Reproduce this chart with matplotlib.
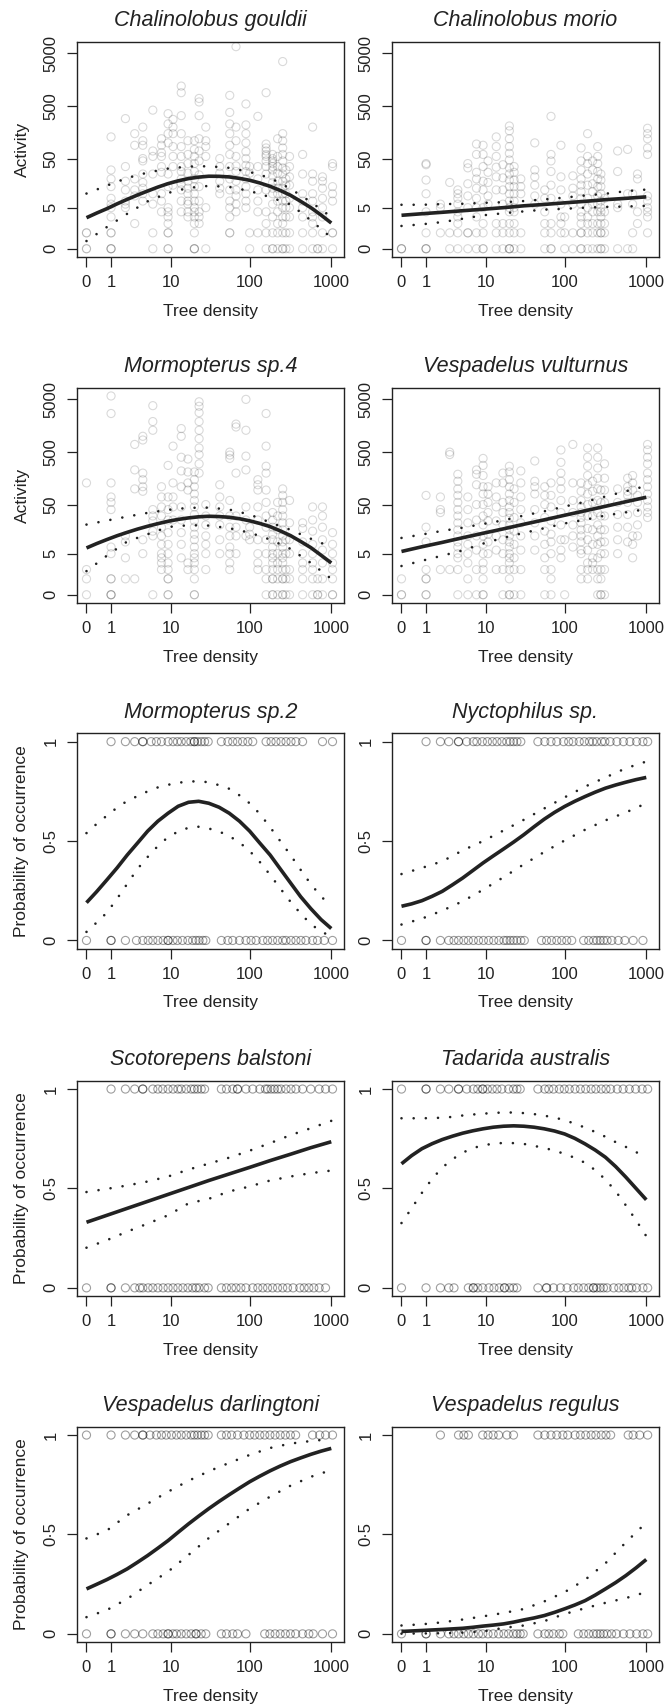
import numpy as np
import matplotlib
matplotlib.use('Agg')
import matplotlib.pyplot as plt
from matplotlib.ticker import FixedLocator, FixedFormatter

plt.rcParams['font.family'] = ['Liberation Sans', 'DejaVu Sans']
INK = '#222222'

# ---- data ---------------------------------------------------------------
# tree density of the survey sites (the columns of points)
sites = [0, 1, 2, 2.9, 3.9, 5.5, 7.3, 9, 10.5, 13.5, 16.5, 20, 23, 28, 42, 56,
         67, 89, 99, 125, 158, 190, 219, 253, 277, 307, 445, 590, 680, 780, 1036]

# activity (passes per night) recorded at each site, per species
gouldii_act = [[0, 0, 1, 1], [0, 0, 0, 1, 1, 3, 5, 6, 8, 14, 20, 30, 130], [5, 6, 7, 12, 18, 35, 290],
               [2, 9, 12, 20, 90, 150], [7, 10, 13, 17, 25, 45, 50, 90, 110, 200], [0, 1, 6, 10, 25, 55, 70, 420],
               [4, 7, 10, 27, 35, 55, 65, 90, 120], [0, 0, 1, 1, 2, 3, 4, 5, 14, 25, 100, 150, 230, 360],
               [15, 35, 55, 85, 150, 200, 280], [4, 7, 12, 16, 20, 28, 35, 55, 85, 150, 330, 900, 1200],
               [3, 4, 6, 7, 10, 13, 18, 26, 40, 60, 110], [0, 0, 0, 1, 2, 3, 4, 5, 7, 10, 14, 20, 28, 40, 55, 75, 110],
               [2, 3, 4, 7, 14, 24, 45, 70, 120, 330, 600, 700], [0, 5, 55, 85, 110, 200], [10, 13, 18, 26, 35, 50],
               [1, 1, 3, 5, 7, 12, 20, 35, 60, 90, 150, 230, 380, 800], [4, 6, 9, 12, 18, 28, 36, 55, 110, 200, 6700],
               [5, 7, 10, 14, 20, 28, 37, 50, 68, 100, 150, 220, 550], [0, 1, 26, 35], [1, 4, 7, 12, 20, 35, 320],
               [0, 1, 2, 4, 12, 25, 35, 45, 55, 60, 70, 80, 95, 900], [0, 0, 1, 3, 6, 10, 13, 17, 23, 30, 35, 40, 45, 50, 60],
               [0, 1, 2, 4, 7, 10, 13, 18, 26, 35, 55, 120], [0, 0, 1, 2, 3, 5, 7, 10, 13, 18, 25, 33, 45, 60, 80, 110, 150, 3500],
               [0, 1, 3, 5, 7, 10, 15, 20, 30], [0, 1, 3, 5, 8, 15, 22, 35, 55], [0, 1, 3, 5, 7, 10, 25, 60],
               [0, 1, 2, 3, 4, 7, 10, 18, 25, 200], [0, 0], [0, 1, 3, 5, 8, 13, 18, 22], [0, 1, 1, 7, 10, 14, 35, 40]]

morio_act = [[0, 0, 0], [0, 0, 0, 1, 4, 10, 19, 38, 40], [1, 5, 6], [0, 1, 17], [0, 1, 2, 3, 4, 6, 8, 10, 12],
             [0, 1, 1, 5, 9, 16, 33, 40], [0, 1, 3, 5, 8, 13, 20, 27, 60, 95], [0, 0, 1, 2, 5, 12, 18, 35, 60, 90],
             [6, 9, 17, 27, 45], [0, 1, 2, 12, 22, 34, 55, 85, 130], [0, 1, 2, 6, 12, 21, 38],
             [0, 0, 0, 1, 2, 4, 5, 7, 10, 14, 19, 25, 33, 47, 63, 85, 120, 170, 210],
             [0, 1, 2, 4, 5, 7, 10, 14, 19, 27, 35], [0, 1, 10, 14, 20], [6, 9, 15, 22, 30, 100], [0, 1, 2, 4, 8, 12],
             [0, 0, 1, 2, 8, 15, 28, 45, 60, 320], [1, 2, 3, 6, 12, 22, 90], [0, 1, 3], [0, 1, 6, 9, 13, 23],
             [0, 0, 1, 1, 2, 3, 4, 6, 8, 11, 15, 20, 30, 45, 80], [0, 1, 2, 3, 5, 8, 15, 25, 40, 55, 150],
             [0, 1, 2, 4, 6, 11, 16, 30, 45], [0, 1, 2, 4, 6, 9, 14, 20, 28, 40, 55, 85],
             [0, 0, 1, 1, 2, 3, 4, 5, 7, 10, 14, 19, 25], [0, 1, 2, 4, 8], [0, 5, 6, 28, 70], [0, 10, 75],
             [0, 1, 6, 10], [2, 4, 20, 25], [1, 3, 4, 5, 7, 9, 60, 80, 120, 150, 190]]

morm4_act = [[0, 1, 2, 130], [0, 0, 0, 1, 1, 5, 7, 40, 55, 70, 130, 2700, 5800], [1, 4, 9, 12], [1, 100, 230, 700],
             [5, 10, 90, 110, 150, 200, 850, 1000], [0, 12, 15, 24, 30, 40, 1300, 1900, 3800],
             [2, 3, 4, 5, 8, 12, 18, 30, 45, 70, 110], [0, 0, 1, 1, 2, 3, 5, 8, 14, 25, 40, 70, 280],
             [25, 45, 70, 130, 650], [4, 8, 14, 25, 45, 110, 220, 400, 1000, 1400], [2, 3, 95, 130, 210, 370],
             [0, 0, 1, 2, 3, 4, 5, 7, 10, 13, 18, 24, 32, 45, 60, 80, 110, 150, 210],
             [200, 300, 450, 600, 900, 1300, 1900, 2800, 3700, 4500], [2, 5, 8, 12, 20, 30, 50],
             [5, 10, 20, 30, 45, 70, 120], [2, 3, 5, 7, 12, 18, 30, 60, 380, 440, 500], [5, 12, 18, 30, 200, 1500, 1700],
             [12, 25, 45, 230, 420, 1300, 5000], [10, 13, 18], [2, 3, 5, 10, 25, 45, 95, 120, 150],
             [0, 1, 2, 5, 10, 18, 30, 55, 95, 200, 270, 650, 2700], [0, 0, 1, 1, 2, 3, 4, 5, 7, 10, 13, 18, 25, 35],
             [0, 1, 2, 3, 5, 9, 16, 30, 55], [0, 0, 1, 1, 2, 3, 4, 5, 7, 9, 12, 16, 22, 30, 40, 55, 75, 100],
             [0, 1, 2, 5, 10], [0, 1, 2, 5, 10, 22, 60], [0, 1, 2, 3, 5, 9, 17, 22], [0, 1, 2, 3, 5, 8, 15, 25, 45],
             [0, 0, 1], [0, 1, 3, 6, 10, 18, 30, 45], [0, 0, 1, 2, 3, 5, 8, 14]]

vult_act = [[0, 0, 1], [0, 0, 1, 1, 2, 9, 18, 75], [2, 35, 40, 70], [2, 450, 500],
            [0, 2, 4, 5, 7, 9, 12, 16, 22, 30, 40, 55, 75, 100, 140, 190], [0, 1, 3, 5, 8, 12, 22, 40, 70],
            [0, 2, 6, 12, 25, 50, 120, 190, 230], [0, 0, 1, 2, 3, 5, 8, 12, 20, 30, 50, 80, 110, 180, 280, 380],
            [5, 9, 13, 24, 35, 55, 80, 110], [2, 6, 12, 24, 45, 70, 130], [0, 2, 5, 10, 20, 35, 55, 130, 200],
            [0, 0, 1, 2, 3, 4, 5, 7, 9, 12, 16, 20, 27, 35, 45, 60, 80, 110, 150, 210, 270],
            [0, 2, 4, 8, 15, 28, 55, 100], [0, 2, 6, 12, 22, 40, 70, 130, 220], [6, 12, 22, 40, 80, 110, 140, 340],
            [0, 2, 4, 8, 15, 28, 50, 75, 110], [0, 1, 2, 5, 9, 13, 24, 45, 75, 130],
            [4, 6, 10, 20, 35, 60, 100, 140, 200, 320, 550], [0, 10], [7, 12, 20, 35, 60, 130, 700],
            [1, 2, 5, 6, 9, 12, 16, 22, 28, 35, 45, 60, 90, 130], [1, 2, 3, 6, 10, 17, 30, 50, 80, 120, 180, 270, 400, 600],
            [2, 3, 4, 8, 16, 30, 55, 90, 140], [0, 1, 2, 4, 8, 12, 20, 35, 60, 100, 160, 250, 400, 600],
            [0, 0, 1, 2, 5, 9, 16, 30, 55, 95], [0, 2, 5, 9, 16, 30, 55, 95, 160, 300], [5, 10, 18, 32, 55, 100],
            [9, 18, 32, 55, 75, 90, 110, 160], [4, 8, 12, 95, 130, 180], [12, 20, 35, 55, 75],
            [28, 35, 45, 60, 80, 110, 150, 200, 300, 400, 550, 700]]

# tree density at sites where a species was present (1) / absent (0)
morm2_pres = [1, 2, 2.9, 3.9, 3.9, 5.2, 6.2, 7.3, 9, 10.5, 12, 13.5, 15.7, 18, 20, 20, 22, 24.5, 27, 30, 44, 53,
              61, 70, 81, 94, 108, 158, 182, 209, 241, 278, 320, 368, 444, 780, 1035]
morm2_abs = [0, 1, 1, 2, 3.1, 3.9, 4.7, 5.5, 6.5, 7.7, 9, 9, 10.5, 12, 14, 16.5, 19, 21, 23, 25.7, 28, 44, 53, 61,
             74, 89, 103, 119, 144, 165, 190, 219, 253, 278, 320, 368, 424, 488, 589, 678, 819, 1035]
nyct_pres = [1, 2, 2.8, 4, 4, 5.3, 6.6, 7.4, 8.8, 10.3, 12, 13.8, 16, 18.5, 20.5, 22.6, 25, 28, 46, 56, 67, 79, 96,
             111, 126, 150, 173, 200, 220, 245, 283, 310, 360, 435, 525, 630, 760, 910, 1040]
nyct_abs = [0, 1, 1, 2, 2.8, 3.4, 4, 4.8, 5.6, 6.6, 7.8, 9.1, 10.7, 12.5, 14.6, 17, 18.6, 20.5, 22.6, 25, 28, 31, 51,
            59, 68, 79, 91, 105, 121, 170, 196, 225, 248, 272, 298, 330, 378, 453, 545, 690, 910]
scot_pres = [1, 2, 2.9, 3.9, 3.9, 5.5, 6.5, 7.6, 9, 10.5, 12.2, 13.5, 15.7, 18.2, 20, 22, 24.5, 27, 44, 51, 61, 70,
             70, 89, 108, 132, 155, 165, 182, 200, 219, 241, 278, 320, 368, 444, 560, 710, 850, 1035]
scot_abs = [0, 1, 1, 2, 2.9, 3.5, 3.9, 4.7, 5.5, 6.5, 7.7, 9, 10.5, 12.2, 14.2, 16.5, 19, 21, 23, 27, 30, 44, 51, 59,
            67, 77, 89, 108, 125, 144, 165, 190, 219, 253, 290, 340, 410, 465, 530, 610, 710, 850]
tada_pres = [0, 1, 1, 2, 2.8, 4, 4, 5.3, 6.6, 7.6, 8.9, 8.9, 10.3, 12, 13.8, 16, 19.5, 22.6, 25, 27.5, 46, 56, 63, 72,
             85, 98, 113, 133, 155, 180, 210, 240, 280, 320, 365, 440, 520, 620, 740, 890, 1040]
tada_abs = [0, 1, 2, 2.8, 3.4, 5.6, 6.6, 6.6, 7.6, 8.9, 10.8, 12.6, 14.8, 17.3, 17.3, 20.1, 22.6, 25, 46, 59, 59, 72,
            88, 106, 128, 146, 170, 196, 225, 225, 248, 272, 298, 330, 398, 460, 530, 610, 665, 760, 910, 1040]
darl_pres = [0, 1, 2, 2.9, 3.9, 3.9, 5, 6.2, 7.3, 8.5, 10, 11.7, 13.5, 15.7, 18.2, 20, 22, 24.5, 27, 30, 44, 51, 59,
             70, 84, 99, 114, 132, 152, 176, 204, 236, 273, 315, 365, 589, 720, 850, 1035]
darl_abs = [0, 1, 1, 2, 2.9, 3.9, 5.5, 6.5, 7.7, 9, 9, 10.5, 11.7, 13.5, 15.7, 18.2, 21, 21, 24.5, 28, 44, 51, 61,
            70, 89, 152, 176, 204, 236, 273, 315, 365, 444, 530, 600, 780, 1035]
reg_pres = [2, 4, 4.8, 5.6, 8.9, 10.5, 12.3, 14.5, 18.6, 22.6, 46, 56, 67, 79, 94, 108, 133, 155, 180, 210, 240,
            280, 320, 365, 600, 690, 830, 1040]
reg_abs = [0, 1, 1, 2, 2.8, 3.4, 4, 4.8, 5.6, 6.6, 7.8, 8.9, 10.5, 12.3, 14.5, 17, 19.5, 22.6, 25, 27.5, 30, 46, 56,
           63, 72, 85, 94, 146, 170, 196, 225, 248, 272, 298, 330, 375, 430, 525, 630, 760, 910, 1040]

curve_x = [0, 0.78, 2.16, 4.62, 9, 16.8, 30.6, 55.2, 99, 177, 315, 561, 1000]
fine_x = [0, 0.33, 0.78, 1.37, 2.16, 3.22, 4.62, 6.5, 9, 12.3, 16.8, 22.7, 30.6, 41.2, 55.2, 74, 99, 132, 177,
          236, 315, 421, 561, 749, 1000]

gouldii_fit = [2.87, 3.73, 4.74, 6.08, 7.63, 9.4, 11.4, 13.7, 16.1, 18.3, 20.3, 21.7, 22.6, 22.5, 21.9, 20.5,
               18.8, 16.6, 14.2, 11.7, 9.3, 6.9, 5.0, 3.35, 2.07]
gouldii_hi = [10.1, 14.7, 20.9, 26.7, 32.0, 35.0, 35.5, 33.0, 27.5, 20.9, 12.7, 6.7, 3.0]
gouldii_lo = [0.40, 1.58, 3.6, 6.9, 10.4, 13.2, 14.5, 13.8, 11.4, 8.5, 5.9, 2.45, 0.62]
morio_fit = [3.3, 3.6, 3.9, 4.25, 4.6, 5.0, 5.5, 5.9, 6.4, 6.9, 7.5, 8.0, 8.6]
morio_hi = [5.8, 5.8, 6.0, 6.1, 6.4, 6.6, 7.0, 7.6, 8.3, 9.2, 10.0, 11.3, 12.2]
morio_lo = [1.7, 1.9, 2.2, 2.7, 3.3, 3.7, 4.1, 4.5, 4.7, 5.0, 5.2, 5.3, 5.5]
morm4_fit = [6.69, 8.29, 10.1, 12.1, 14.2, 16.5, 18.8, 21.2, 23.6, 25.7, 27.5, 28.9, 29.6, 29.2, 28.3, 26.5,
             24.1, 21.4, 18.5, 15.2, 12.2, 9.2, 6.8, 4.6, 3.0]
morm4_hi = [20.3, 24.4, 29.2, 34.5, 39.5, 43.2, 43.7, 40.0, 32.0, 22.4, 16.0, 10.5, 7.0]
morm4_lo = [1.8, 4.5, 9.2, 13.0, 18.2, 19.7, 19.4, 17.2, 14.0, 10.1, 6.4, 3.0, 1.0]
vult_fit = [5.6, 7.1, 8.8, 11.0, 13.6, 16.7, 20.6, 25.2, 31.0, 37.9, 46.3, 56.7, 69.1]
vult_hi = [10.9, 12.8, 15.2, 17.6, 20.9, 24.7, 30.6, 37.0, 45.8, 56.5, 71.4, 90.2, 113.8]
vult_lo = [2.5, 3.4, 4.5, 5.9, 8.3, 11.0, 13.8, 17.2, 21.4, 25.3, 30.6, 35.3, 40.7]

morm2_fit = [0.19, 0.245, 0.305, 0.365, 0.43, 0.49, 0.55, 0.60, 0.64, 0.675, 0.695, 0.70, 0.69, 0.67, 0.64,
             0.60, 0.55, 0.49, 0.43, 0.36, 0.29, 0.22, 0.16, 0.105, 0.06]
morm2_hi = [0.54, 0.586, 0.628, 0.668, 0.702, 0.726, 0.75, 0.77, 0.783, 0.793, 0.8, 0.8, 0.796, 0.781, 0.763,
            0.73, 0.69, 0.637, 0.57, 0.5, 0.43, 0.355, 0.283, 0.222, 0.17]
morm2_lo = [0.043, 0.09, 0.14, 0.21, 0.285, 0.36, 0.42, 0.475, 0.52, 0.548, 0.567, 0.572, 0.563, 0.548, 0.525,
            0.493, 0.45, 0.395, 0.33, 0.262, 0.195, 0.135, 0.082, 0.045, 0.02]
nyct_fit = [0.172, 0.184, 0.2, 0.222, 0.247, 0.28, 0.314, 0.352, 0.39, 0.425, 0.46, 0.495, 0.532, 0.572, 0.61,
            0.644, 0.674, 0.7, 0.724, 0.746, 0.766, 0.782, 0.796, 0.809, 0.82]
nyct_hi = [0.334, 0.365, 0.398, 0.453, 0.50, 0.553, 0.607, 0.664, 0.72, 0.774, 0.82, 0.866, 0.90]
nyct_lo = [0.08, 0.11, 0.15, 0.197, 0.255, 0.318, 0.383, 0.445, 0.503, 0.557, 0.604, 0.644, 0.69]
scot_fit = [0.33, 0.365, 0.40, 0.435, 0.47, 0.505, 0.54, 0.573, 0.606, 0.64, 0.672, 0.705, 0.735]
scot_hi = [0.482, 0.498, 0.515, 0.535, 0.56, 0.595, 0.625, 0.655, 0.69, 0.728, 0.768, 0.803, 0.84]
scot_lo = [0.202, 0.24, 0.283, 0.323, 0.365, 0.425, 0.448, 0.485, 0.51, 0.54, 0.56, 0.577, 0.59]
tada_fit = [0.624, 0.665, 0.7, 0.725, 0.746, 0.763, 0.778, 0.79, 0.8, 0.808, 0.813, 0.815, 0.813, 0.808, 0.8,
            0.789, 0.774, 0.752, 0.724, 0.693, 0.657, 0.61, 0.557, 0.5, 0.443]
tada_hi = [0.853, 0.853, 0.853, 0.854, 0.856, 0.86, 0.867, 0.872, 0.876, 0.88, 0.882, 0.882, 0.879, 0.874, 0.866,
           0.857, 0.843, 0.826, 0.806, 0.784, 0.76, 0.733, 0.709, 0.683, 0.655]
tada_lo = [0.326, 0.4, 0.478, 0.548, 0.605, 0.647, 0.68, 0.703, 0.717, 0.725, 0.729, 0.728, 0.724, 0.714, 0.704,
           0.69, 0.674, 0.654, 0.629, 0.592, 0.545, 0.486, 0.415, 0.34, 0.26]
darl_fit = [0.226, 0.249, 0.273, 0.299, 0.327, 0.36, 0.394, 0.431, 0.469, 0.511, 0.553, 0.592, 0.63, 0.666, 0.7,
            0.733, 0.765, 0.793, 0.82, 0.844, 0.866, 0.885, 0.903, 0.919, 0.933]
darl_hi = [0.48, 0.52, 0.597, 0.655, 0.715, 0.77, 0.818, 0.86, 0.90, 0.935, 0.957, 0.97, 0.98]
darl_lo = [0.084, 0.12, 0.176, 0.246, 0.313, 0.397, 0.482, 0.556, 0.63, 0.69, 0.745, 0.79, 0.824]
reg_fit = [0.012, 0.0145, 0.017, 0.0195, 0.022, 0.025, 0.028, 0.033, 0.039, 0.044, 0.05, 0.059, 0.07, 0.08,
           0.092, 0.108, 0.126, 0.145, 0.167, 0.195, 0.226, 0.258, 0.293, 0.332, 0.374]
reg_hi = [0.042, 0.048, 0.058, 0.072, 0.088, 0.105, 0.125, 0.163, 0.21, 0.272, 0.355, 0.46, 0.56]
reg_lo = [0.001, 0.002, 0.003, 0.006, 0.012, 0.03, 0.042, 0.064, 0.10, 0.129, 0.156, 0.18, 0.21]

density_ticks = [0, 1, 10, 100, 1000]
activity_ticks = [0, 5, 50, 500, 5000]
prob_ticks = [0, 0.5, 1]
prob_labels = ['0', '0\u00b75', '1']


# ---- scale: log10(x + 1) ------------------------------------------------
def fwd(v):
    v = np.asarray(v, dtype=float)
    return np.log10(np.clip(v + 1, 1e-6, None))


def inv(u):
    return 10 ** np.asarray(u, dtype=float) - 1


W, H = 667, 1707
fig = plt.figure(figsize=(W / 100, H / 100), dpi=100)
col_left = [76.7, 391.7]
row_top = [41.7, 387.7, 733.3, 1080.7, 1426.7]
pw, ph = 267.6, 215.5


def panel(row, col, title):
    left, top = col_left[col], row_top[row]
    ax = fig.add_axes([left / W, 1 - (top + ph) / H, pw / W, ph / H])
    ax.set_xscale('function', functions=(fwd, inv))
    ax.set_xlim(inv(-0.12), inv(3.16))
    ax.xaxis.set_major_locator(FixedLocator(density_ticks))
    ax.xaxis.set_major_formatter(FixedFormatter([str(t) for t in density_ticks]))
    ax.xaxis.set_minor_locator(FixedLocator([]))
    for s in ax.spines.values():
        s.set_linewidth(1.0)
        s.set_color(INK)
    ax.tick_params(axis='x', direction='out', length=7, width=0.9, pad=6,
                   labelsize=12, colors=INK)
    ax.tick_params(axis='y', direction='out', length=7, width=0.9, pad=6,
                   labelsize=12, colors=INK, labelrotation=90)
    ax.set_title(title, fontsize=15.5, style='italic', color=INK, pad=11)
    fig.text((left + pw / 2) / W, 1 - (top + ph + 54) / H, 'Tree density',
             ha='center', va='center', fontsize=12.5, color=INK)
    return ax


def draw_curves(ax, fit, hi, lo):
    fx = fine_x if len(fit) == len(fine_x) else curve_x
    ax.plot(fx, fit, color=INK, lw=2.6, solid_capstyle='butt',
            solid_joinstyle='round', zorder=4)
    for ci in (hi, lo):
        cx = fine_x if len(ci) == len(fine_x) else curve_x
        ax.plot(cx, ci, color=INK, lw=1.9, linestyle=(0, (0.01, 4.6)),
                dash_capstyle='round', zorder=4)


def activity_panel(row, col, title, acts, fit, hi, lo):
    ax = panel(row, col, title)
    xs = np.repeat(sites, [len(a) for a in acts])
    ys = np.concatenate([np.asarray(a, dtype=float) for a in acts])
    ax.scatter(xs, ys, s=34, facecolors='none', edgecolors='black',
               linewidths=0.8, alpha=0.15, zorder=2)
    ax.set_yscale('function', functions=(fwd, inv))
    ax.set_ylim(inv(-0.16), inv(3.92))
    ax.yaxis.set_major_locator(FixedLocator(activity_ticks))
    ax.yaxis.set_major_formatter(FixedFormatter([str(t) for t in activity_ticks]))
    ax.yaxis.set_minor_locator(FixedLocator([]))
    plt.setp(ax.get_yticklabels(), va='center')
    draw_curves(ax, fit, hi, lo)
    if col == 0:
        fig.text(22 / W, 1 - (row_top[row] + ph / 2) / H, 'Activity', rotation=90,
                 ha='center', va='center', fontsize=12.5, color=INK)
    return ax


def occurrence_panel(row, col, title, pres, absn, fit, hi, lo):
    ax = panel(row, col, title)
    ax.scatter(pres, np.ones(len(pres)), s=34, facecolors='none', edgecolors='black',
               linewidths=0.8, alpha=0.38, zorder=2)
    ax.scatter(absn, np.zeros(len(absn)), s=34, facecolors='none', edgecolors='black',
               linewidths=0.8, alpha=0.38, zorder=2)
    ax.set_ylim(-0.042, 1.042)
    ax.yaxis.set_major_locator(FixedLocator(prob_ticks))
    ax.yaxis.set_major_formatter(FixedFormatter(prob_labels))
    plt.setp(ax.get_yticklabels(), va='center')
    draw_curves(ax, fit, hi, lo)
    if col == 0:
        fig.text(22 / W, 1 - (row_top[row] + ph / 2) / H, 'Probability of occurrence',
                 rotation=90, ha='center', va='center', fontsize=12.5, color=INK)
    return ax


activity_panel(0, 0, 'Chalinolobus gouldii', gouldii_act, gouldii_fit, gouldii_hi, gouldii_lo)
activity_panel(0, 1, 'Chalinolobus morio', morio_act, morio_fit, morio_hi, morio_lo)
activity_panel(1, 0, 'Mormopterus sp.4', morm4_act, morm4_fit, morm4_hi, morm4_lo)
activity_panel(1, 1, 'Vespadelus vulturnus', vult_act, vult_fit, vult_hi, vult_lo)

occurrence_panel(2, 0, 'Mormopterus sp.2', morm2_pres, morm2_abs, morm2_fit, morm2_hi, morm2_lo)
occurrence_panel(2, 1, 'Nyctophilus sp.', nyct_pres, nyct_abs, nyct_fit, nyct_hi, nyct_lo)
occurrence_panel(3, 0, 'Scotorepens balstoni', scot_pres, scot_abs, scot_fit, scot_hi, scot_lo)
occurrence_panel(3, 1, 'Tadarida australis', tada_pres, tada_abs, tada_fit, tada_hi, tada_lo)
occurrence_panel(4, 0, 'Vespadelus darlingtoni', darl_pres, darl_abs, darl_fit, darl_hi, darl_lo)
occurrence_panel(4, 1, 'Vespadelus regulus', reg_pres, reg_abs, reg_fit, reg_hi, reg_lo)

fig.savefig('out.png', dpi=100, facecolor='white')
